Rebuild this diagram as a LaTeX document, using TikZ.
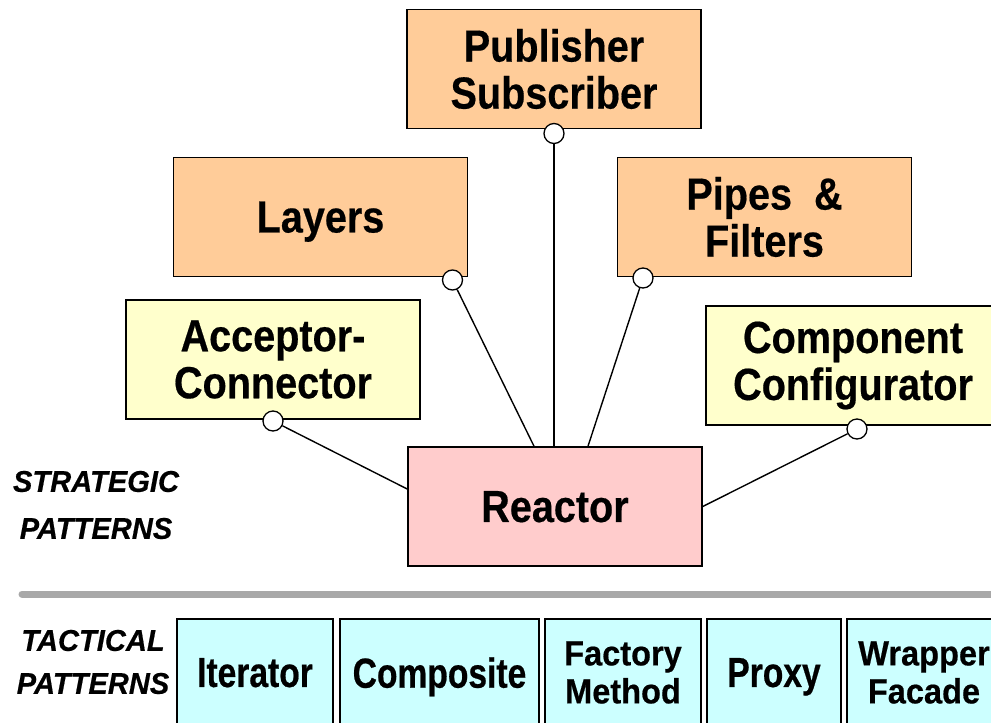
\documentclass[tikz,border=0pt]{standalone}
\usepackage{fontspec}
\setmainfont{Liberation Sans}
\newfontfamily\topfont[FakeStretch=0.88,FakeBold=0.4]{Liberation Sans}
\newfontfamily\botfont[FakeStretch=0.8,FakeBold=0.5]{Liberation Sans}
\newfontfamily\botfontb[FakeStretch=0.93,FakeBold=0.5]{Liberation Sans}
\newfontfamily\labfont[FakeStretch=0.97,FakeBold=0.5]{Liberation Sans}
\definecolor{peach}{HTML}{FFCC99}
\definecolor{lyellow}{HTML}{FFFFCC}
\definecolor{lpink}{HTML}{FFCCCC}
\definecolor{lcyan}{HTML}{CCFFFF}
\definecolor{sepgray}{HTML}{A8A8A8}
\begin{document}
\begin{tikzpicture}[x=1pt,y=-1pt,
  box/.style={draw=black, line width=1.6pt, inner sep=0pt, align=center,
    minimum width=294pt, minimum height=119pt,
    font=\topfont\bfseries\fontsize{45}{47}\selectfont},
  tbox/.style={draw=black, line width=1.6pt, inner sep=0pt, align=center,
    fill=lcyan, minimum height=107pt},
  tone/.style={tbox, text depth=0pt, font=\botfont\bfseries\fontsize{42}{44}\selectfont},
  ttwo/.style={tbox, font=\botfontb\bfseries\fontsize{35}{38}\selectfont},
  lolly/.style={circle, draw=black, fill=white, line width=1.3pt,
    minimum size=20pt, inner sep=0pt},
  conn/.style={draw=black, line width=1.4pt},
  sep/.style={draw=sepgray, line width=7pt, line cap=round},
  lab/.style={align=center, inner sep=0pt}
]
\useasboundingbox (0,0) rectangle (991,723);
\clip (0,0) rectangle (991,723);

% strategic boxes
\node[box, fill=peach] (pub) at (554,69) {Publisher\\Subscriber};
\node[box, fill=peach, text depth=0pt] (layers) at (320.5,217) {Layers};
\node[box, fill=peach] (pipes) at (764.5,217) {Pipes\ \ \&\\Filters};
\node[box, fill=lyellow] (acc) at (273,359.5) {Acceptor-\\Connector};
\node[box, fill=lyellow] (comp) at (853,365.5) {Component\\Configurator};
\node[box, fill=lpink, text depth=0pt] (reactor) at (555,506.5) {Reactor};

% lollipop circles
\node[lolly] (pubc) at (554,133.5) {};
\node[lolly] (layc) at (452.5,280) {};
\node[lolly] (pipc) at (643,278) {};
\node[lolly] (accc) at (273,421) {};
\node[lolly] (compc) at (857,429) {};

% connectors
\draw[conn] (pubc) -- (pubc |- reactor.north);
\draw[conn] (layc) -- ([xshift=-21pt]reactor.north);
\draw[conn] (pipc) -- ([xshift=33pt]reactor.north);
\draw[conn] (accc) -- ([yshift=17.5pt]reactor.west);
\draw[conn] (compc) -- (reactor.east);

% labels
\node[lab, font=\labfont\bfseries\itshape\fontsize{30}{47}\selectfont] (strat) at (96,505) {STRATEGIC\\PATTERNS};
\node[lab, font=\labfont\bfseries\itshape\fontsize{30}{43}\selectfont] (tact) at (93,662) {TACTICAL\\PATTERNS};

% separator
\draw[sep] (22,594) -- (1000,594);

% tactical boxes
\node[tone, minimum width=156pt] (iter) at (255,672.5) {Iterator};
\node[tone, minimum width=199pt] (compos) at (439.5,672.5) {Composite};
\node[ttwo, minimum width=156pt] (factory) at (623,672.5) {Factory\\Method};
\node[tone, minimum width=134pt] (proxy) at (774,672.5) {Proxy};
\node[ttwo, minimum width=154pt] (wrapper) at (924,672.5) {Wrapper\\Facade};
\end{tikzpicture}
\end{document}
